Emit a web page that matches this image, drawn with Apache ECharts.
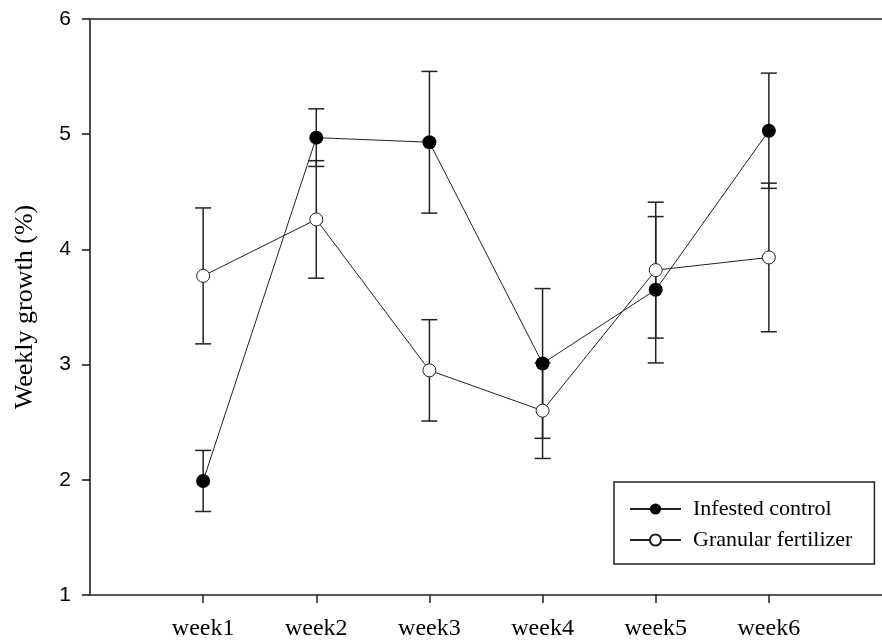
<!DOCTYPE html>
<html>
<head>
<meta charset="utf-8">
<script src="https://cdn.jsdelivr.net/npm/echarts@6/dist/echarts.min.js"></script>
<style>
html, body { margin: 0; padding: 0; background: #fff; }
#main { width: 882px; height: 642px; }
</style>
</head>
<body>
<div id="main"></div>
<script>
const weeks = ['week1', 'week2', 'week3', 'week4', 'week5', 'week6'];
const infested = [1.99, 4.97, 4.93, 3.01, 3.65, 5.03];
const infestedErr = [0.265, 0.25, 0.615, 0.65, 0.635, 0.5];
const granular = [3.77, 4.26, 2.95, 2.60, 3.82, 3.93];
const granularErr = [0.59, 0.51, 0.44, 0.415, 0.59, 0.645];
const yTicks = [1, 2, 3, 4, 5, 6];

const serif = '"Liberation Serif", "Times New Roman", serif';
const sans = '"Liberation Sans", Arial, sans-serif';

function points(vals) {
  return vals.map(function (v, i) { return [i + 1, v]; });
}
function errData(vals, errs) {
  return vals.map(function (v, i) { return [i + 1, v - errs[i], v + errs[i]]; });
}

function renderErr(params, api) {
  const x = api.value(0);
  const lo = api.coord([x, api.value(1)]);
  const hi = api.coord([x, api.value(2)]);
  const w = 8;
  const style = { stroke: '#222', lineWidth: 1.5 };
  return {
    type: 'group',
    children: [
      { type: 'line', shape: { x1: lo[0], y1: lo[1], x2: hi[0], y2: hi[1] }, style: style },
      { type: 'line', shape: { x1: lo[0] - w, y1: lo[1], x2: lo[0] + w, y2: lo[1] }, style: style },
      { type: 'line', shape: { x1: hi[0] - w, y1: hi[1], x2: hi[0] + w, y2: hi[1] }, style: style }
    ]
  };
}

const chart = echarts.init(document.getElementById('main'));
const option = {
  animation: false,
  backgroundColor: '#fff',
  grid: { left: 90, top: 19, width: 801, height: 576 },
  legend: {
    left: 614,
    top: 482,
    orient: 'vertical',
    width: 265,
    height: 86,
    padding: [16, 22, 13, 15],
    itemGap: 9,
    itemWidth: 51,
    itemHeight: 14,
    borderColor: '#222',
    borderWidth: 1.5,
    textStyle: { fontFamily: serif, fontSize: 22, color: '#000', padding: [0, 0, 0, 7] },
    data: ['Infested control', 'Granular fertilizer']
  },
  xAxis: [
    {
      type: 'value',
      min: 0,
      max: 7,
      interval: 1,
      axisLine: { lineStyle: { color: '#555', width: 2 } },
      axisTick: { show: true, length: 8, customValues: [1, 2, 3, 4, 5, 6], lineStyle: { color: '#222', width: 1.5 } },
      axisLabel: {
        customValues: [1, 2, 3, 4, 5, 6],
        formatter: function (v) { return weeks[v - 1] || ''; },
        fontFamily: serif,
        fontSize: 24,
        color: '#000',
        margin: 22
      },
      splitLine: { show: false }
    },
    {
      type: 'value',
      position: 'top',
      min: 0,
      max: 7,
      axisLine: { show: true, lineStyle: { color: '#555', width: 2 } },
      axisTick: { show: false },
      axisLabel: { show: false },
      splitLine: { show: false }
    }
  ],
  yAxis: {
    type: 'value',
    min: 1,
    max: 6,
    interval: 1,
    name: 'Weekly growth (%)',
    nameLocation: 'middle',
    nameRotate: 90,
    nameGap: 52,
    nameTextStyle: { fontFamily: serif, fontSize: 26, color: '#000' },
    axisLine: { show: true, lineStyle: { color: '#111', width: 1.5 } },
    axisTick: { show: true, length: 8, lineStyle: { color: '#111', width: 1.5 } },
    axisLabel: {
      customValues: yTicks,
      fontFamily: sans,
      fontSize: 21,
      color: '#000',
      margin: 19
    },
    splitLine: { show: false }
  },
  series: [
    {
      name: 'Infested control err',
      type: 'custom',
      renderItem: renderErr,
      data: errData(infested, infestedErr),
      z: 1
    },
    {
      name: 'Granular fertilizer err',
      type: 'custom',
      renderItem: renderErr,
      data: errData(granular, granularErr),
      z: 1
    },
    {
      name: 'Infested control',
      type: 'line',
      data: points(infested),
      symbol: 'circle',
      symbolSize: 14,
      lineStyle: { color: '#222', width: 1 },
      itemStyle: { color: '#000', borderColor: '#000', borderWidth: 0 },
      z: 3
    },
    {
      name: 'Granular fertilizer',
      type: 'line',
      data: points(granular),
      symbol: 'circle',
      symbolSize: 13,
      showAllSymbol: true,
      lineStyle: { color: '#222', width: 1 },
      itemStyle: { color: '#fff', borderColor: '#222', borderWidth: 1 },
      z: 4
    }
  ]
};
chart.setOption(option);
</script>
</body>
</html>
